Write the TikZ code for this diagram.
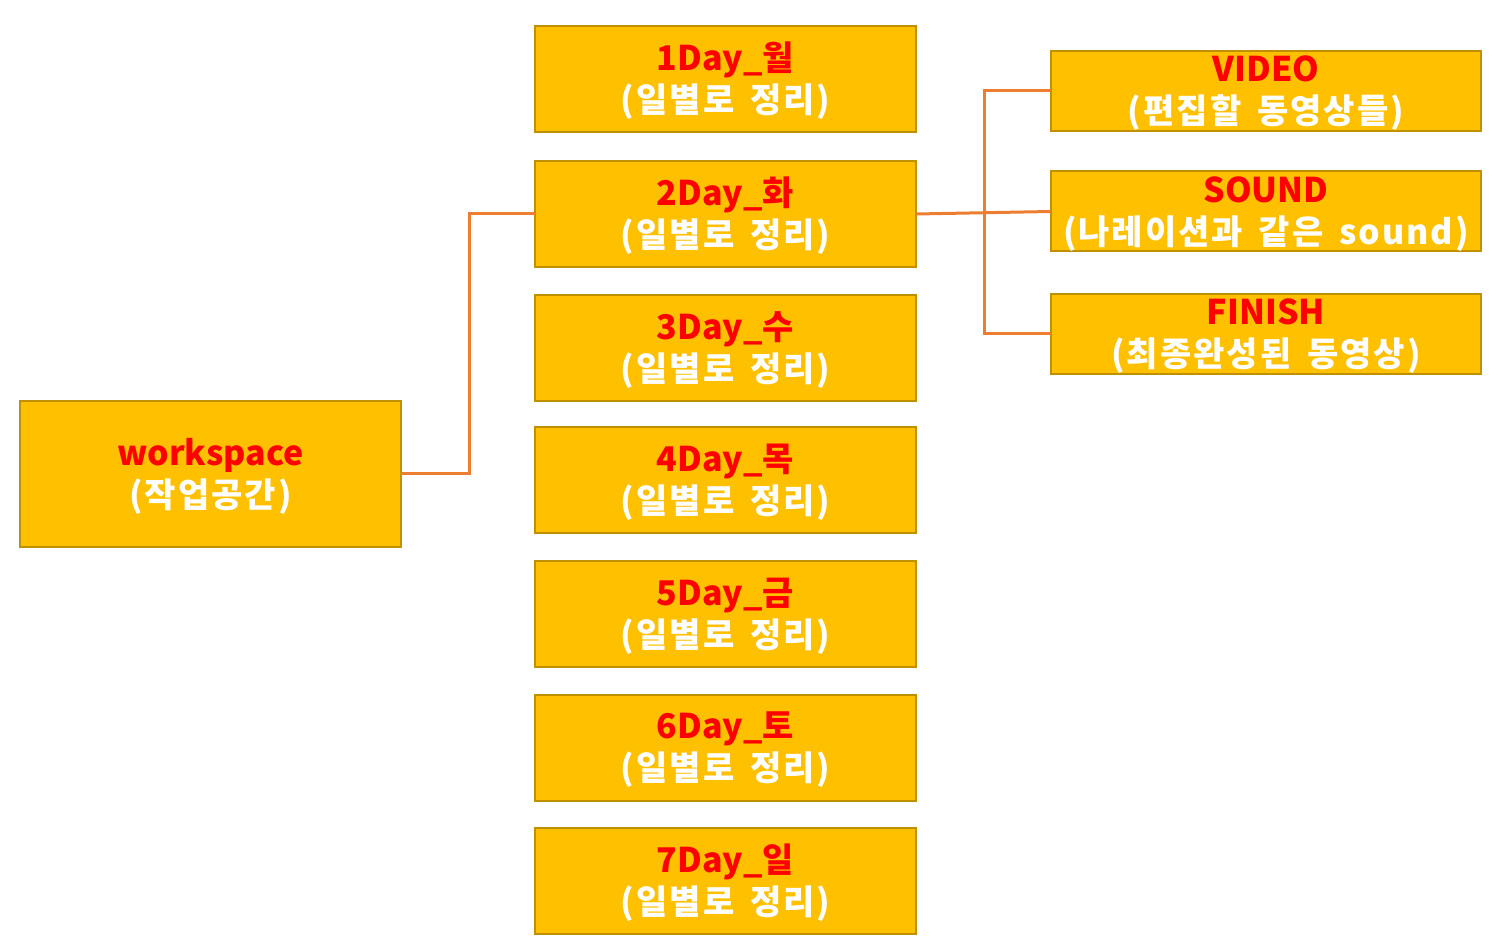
\documentclass[tikz,border=0pt]{standalone}
\usepackage{fontspec}
\setmainfont{Noto Sans CJK KR}
\newfontfamily\subfont{Noto Sans CJK KR}[LetterSpace=6,WordSpace=1.6]
\usetikzlibrary{positioning,calc}
\definecolor{wsGold}{HTML}{FFC000}
\definecolor{wsEdge}{HTML}{BF9000}
\definecolor{wsLine}{HTML}{ED7D31}
\definecolor{wsRed}{HTML}{FF0000}
\tikzset{
  box/.style={draw=wsEdge, fill=wsGold, line width=1pt, inner sep=0pt, outer sep=0pt},
  daybox/.style={box, minimum width=190.5pt, minimum height=53pt},
  subbox/.style={box, minimum width=215pt, minimum height=40pt},
  txt/.style={align=center, inner sep=0pt, font=\fontsize{17pt}{21pt}\selectfont\bfseries, text=white},
  link/.style={draw=wsLine, line width=1.5pt},
}
\newcommand{\hd}[1]{\textcolor{wsRed}{#1}}
\newcommand{\sub}[1]{{\subfont\bfseries#1}}

\begin{document}
\begin{tikzpicture}[x=0.5pt,y=-0.5pt]
  \useasboundingbox (0,0) rectangle (1499,945);
  % root
  \node[daybox,minimum height=73pt] (ws) at (210.5,474) {};
  \node[txt] (wst) at (210.5,476) {\hd{workspace}\\\sub{(작업공간)}};
  % days
  \foreach \d/\k/\y in {1/월/79,2/화/214,3/수/348,4/목/480.5,5/금/614,6/토/748,7/일/881}{
    \node[daybox] (d\d) at (725.5,\y) {};
    \node[txt] (t\d) at (725.5,\y+2) {\hd{\d Day\_\k}\\\sub{(일별로 정리)}};
  }
  % sub folders
  \node[subbox] (video) at (1266,91) {};
  \node[txt] (vt) at (1266,93) {\hd{VIDEO}\\\sub{(편집할 동영상들)}};
  \node[subbox] (sound) at (1266,211.5) {};
  \node[txt] (st) at (1266,214) {\hd{SOUND}\\\sub{(나레이션과 같은 sound)}};
  \node[subbox] (finish) at (1266,334) {};
  \node[txt] (ft) at (1266,336) {\hd{FINISH}\\\sub{(최종완성된 동영상)}};
  % links
  \draw[link] (ws.east) -- ++(68,0) |- (d2.west);
  \draw[link] (d2.east) -- (sound.west);
  \draw[link] (video.west) -- ++(-67,0) |- (finish.west);
\end{tikzpicture}
\end{document}
